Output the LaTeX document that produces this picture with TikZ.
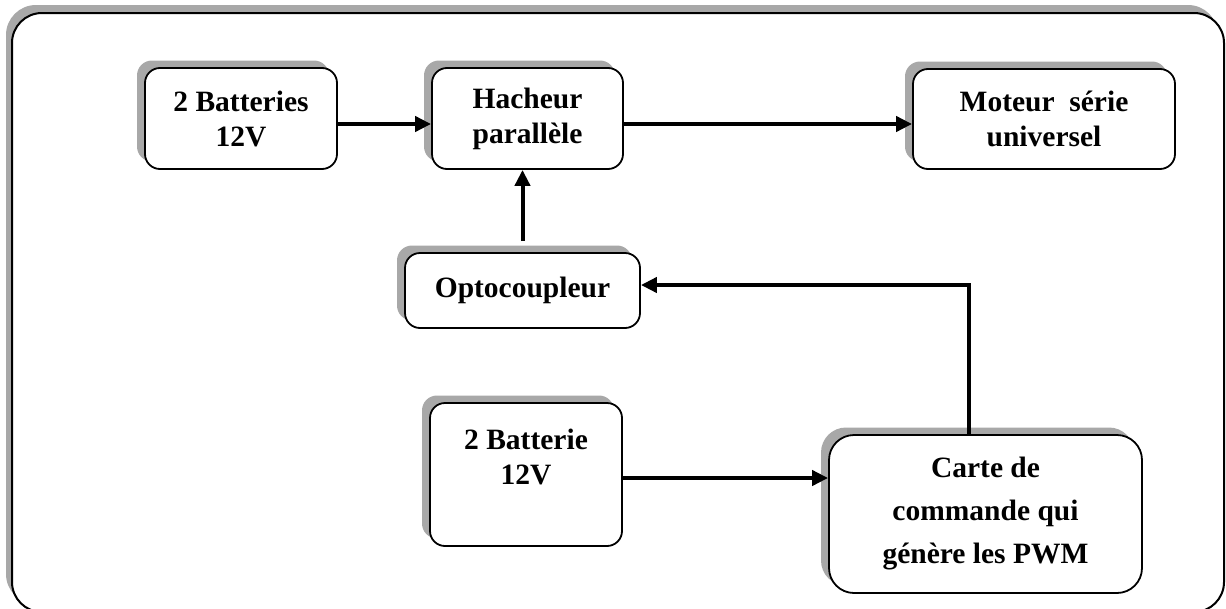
\documentclass[tikz,border=0pt]{standalone}
\usepackage{fontspec}
\setmainfont{Liberation Serif}
\usetikzlibrary{shadows,arrows.meta}
\begin{document}
\begin{tikzpicture}[x=1pt,y=-1pt,
  shadowfill/.style={fill=gray!68},
  box/.style={draw, line width=1.8pt, fill=white, align=center, rounded corners=15pt,
    font=\fontsize{29.5}{35}\selectfont\bfseries, inner sep=0pt,
    drop shadow={shadow xshift=-8pt, shadow yshift=7.5pt, shadowfill, opacity=1}},
  arr/.style={line width=4pt, -{Triangle[length=16pt,width=15pt]}}]
\useasboundingbox (0,0) rectangle (1226,608);
\begin{scope}
  \clip (0,0) rectangle (1226,608);
  \fill[shadowfill, rounded corners=30pt] (6,5) rectangle (1218,604);
  \draw[line width=2pt, fill=white, rounded corners=30pt] (12,13) rectangle (1224,612);
\end{scope}

\node[box, minimum width=192pt, minimum height=101pt] (b1) at (241,118.5) {2 Batteries\\12V};
\node[box, minimum width=191pt, minimum height=101pt] (hach) at (527.5,118.5) {Hacheur\\parallèle};
\node[box, minimum width=262pt, minimum height=100pt] (mot) at (1044,119) {Moteur~~série\\universel};
\node[box, minimum width=235pt, minimum height=75pt] (opto) at (522.5,290.5) {Optocoupleur};
\node[box, minimum width=192pt, minimum height=143pt] (b2) at (526,474.5) {2 Batterie\\12V\\\mbox{}};
\node[box, minimum width=313pt, minimum height=158pt, rounded corners=25pt,
      font=\fontsize{29.5}{43}\selectfont\bfseries] (carte) at (985.5,514) {Carte de\\commande qui\\génère les PWM};

\coordinate (ya) at (0,124);
\coordinate (oa) at (522.5,241);
\coordinate (c1) at (969,285);
\coordinate (yb) at (0,478);

\draw[arr] (b1.east |- ya) -- (hach.west |- ya);
\draw[arr] (hach.east |- ya) -- (mot.west |- ya);
\draw[arr] (oa) -- (oa |- hach.south);
\draw[arr] (carte.north -| c1) -- (c1) -- (opto.east |- c1);
\draw[arr] (b2.east |- yb) -- (carte.west |- yb);
\end{tikzpicture}
\end{document}
